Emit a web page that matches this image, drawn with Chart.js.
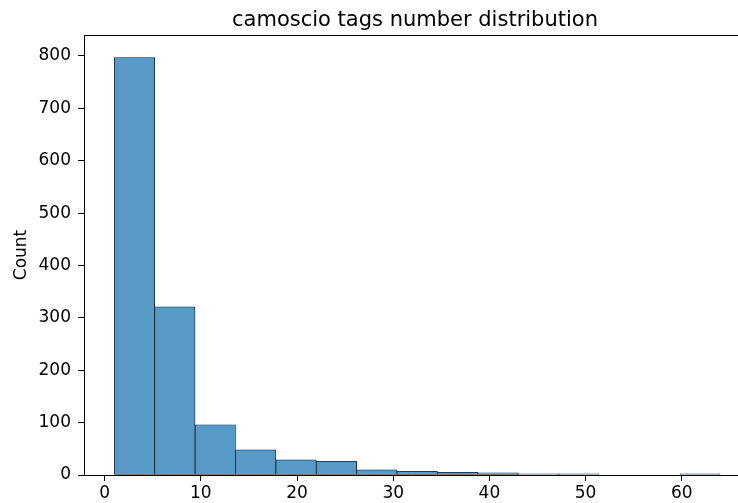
<!DOCTYPE html>
<html>
<head>
<meta charset="utf-8">
<script src="https://cdn.jsdelivr.net/npm/chart.js@4"></script>
<style>
  html, body { margin: 0; padding: 0; background: #fff; overflow: hidden; }
</style>
</head>
<body>
<canvas id="histChart" width="738" height="503"></canvas>
<script>
const chart1 = document.getElementById("histChart");

// histogram bins (edges) and counts
var binEdges = [1, 5.2, 9.4, 13.6, 17.8, 22, 26.2, 30.4, 34.6, 38.8, 43, 47.2, 51.4, 55.6, 59.8, 64];
var counts = [797, 321, 96, 48, 29, 26, 10, 7, 5, 4, 2, 2, 0, 0, 2];
var xTicks = [0, 10, 20, 30, 40, 50, 60];
var yTicks = [0, 100, 200, 300, 400, 500, 600, 700, 800];
var titleText = 'camoscio tags number distribution';

var barData = [];
for (var i = 0; i < counts.length; i++) {
    barData.push({ x: (binEdges[i] + binEdges[i + 1]) / 2, y: counts[i] });
}

Chart.defaults.font.family = "'DejaVu Sans', sans-serif";
Chart.defaults.color = '#000';

// top spine + title centred over the (partly cropped) axes box
const frameAndTitle = {
    id: 'frameAndTitle',
    afterDraw(chart) {
        const ctx = chart.ctx;
        const a = chart.chartArea;
        ctx.save();
        ctx.strokeStyle = '#000';
        ctx.lineWidth = 1;
        ctx.beginPath();
        ctx.moveTo(a.left, a.top + 0.5);
        ctx.lineTo(a.right, a.top + 0.5);
        ctx.stroke();

        ctx.fillStyle = '#000';
        ctx.font = "21px 'DejaVu Sans', sans-serif";
        ctx.textAlign = 'center';
        ctx.textBaseline = 'alphabetic';
        ctx.fillText(titleText, a.left + 331, a.top - 9);
        ctx.restore();
    }
};

var histChart = new Chart(chart1, {
    type: 'bar',
    data: {
        datasets: [
            {
                label: 'Count',
                data: barData,
                backgroundColor: '#5799c7',
                borderColor: '#1c1c1c',
                borderWidth: 0.8,
                borderSkipped: false,
                barPercentage: 1,
                categoryPercentage: 1
            }
        ]
    },
    options: {
        responsive: false,
        animation: false,
        layout: { padding: { top: 35, left: 0, right: 0, bottom: 0 } },
        plugins: {
            legend: { display: false },
            tooltip: { enabled: false },
            title: { display: false }
        },
        scales: {
            x: {
                type: 'linear',
                min: -2.15,
                max: 65.85,
                offset: false,
                afterBuildTicks: function (scale) {
                    scale.ticks = xTicks.map(function (v) { return { value: v }; });
                },
                afterFit: function (scale) { scale.height = 28; },
                grid: {
                    display: true,
                    offset: false,
                    drawOnChartArea: false,
                    drawTicks: true,
                    tickLength: 6,
                    tickColor: '#000'
                },
                border: { display: true, color: '#000', width: 1 },
                ticks: { font: { size: 17 }, padding: 2, maxRotation: 0 }
            },
            y: {
                min: 0,
                max: 840,
                afterBuildTicks: function (scale) {
                    scale.ticks = yTicks.map(function (v) { return { value: v }; });
                },
                afterFit: function (scale) { scale.width = 84; },
                grid: {
                    display: true,
                    offset: false,
                    drawOnChartArea: false,
                    drawTicks: true,
                    tickLength: 6,
                    tickColor: '#000'
                },
                border: { display: true, color: '#000', width: 1 },
                ticks: { font: { size: 17 }, padding: 7 },
                title: {
                    display: true,
                    text: 'Count',
                    font: { size: 17 },
                    padding: { top: 11, bottom: 0 }
                }
            }
        }
    },
    plugins: [frameAndTitle]
});
</script>
</body>
</html>
